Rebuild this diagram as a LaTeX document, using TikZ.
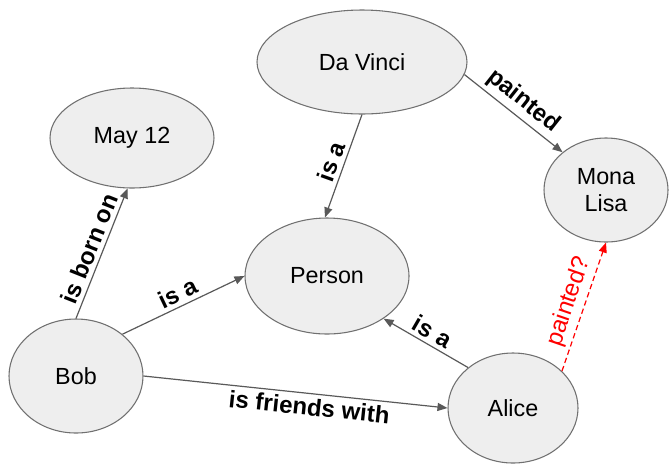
\documentclass[tikz,border=0pt]{standalone}
\usepackage{fontspec}
\setmainfont{Liberation Sans}
\usepackage{tikz}
\usetikzlibrary{shapes.geometric, arrows.meta, calc}
\definecolor{node-fill}{HTML}{EEEEEE}
\definecolor{node-line}{HTML}{707070}
\definecolor{edge-gray}{HTML}{595959}

\tikzset{
	entity/.style={ellipse, draw=node-line, fill=node-fill, line width=0.8pt, inner sep=0pt, font=\fontsize{17.5}{20}\selectfont},
	rel/.style={edge-gray, line width=0.9pt, -{Triangle[length=7.5pt, width=6pt]}},
	guess/.style={red, line width=0.9pt, dash pattern=on 4pt off 2.5pt, -{Triangle[length=7.5pt, width=6pt]}},
	lbl/.style={sloped, text=black, font=\fontsize{18}{21}\selectfont\bfseries, inner sep=3pt}
}

\begin{document}
\begin{tikzpicture}[x=0.75pt, y=-0.75pt]
	\useasboundingbox (0,0) rectangle (670,465);
	\node[entity, minimum width=157.5pt, minimum height=78pt] (davinci) at (362,62) {Da Vinci};
	\node[entity, minimum width=123pt, minimum height=75pt] (may) at (132,138) {May 12};
	\node[entity, minimum width=93pt, minimum height=78pt, align=center] (mona) at (606,190) {Mona\\Lisa};
	\node[entity, minimum width=123pt, minimum height=87pt] (person) at (327,276) {Person};
	\node[entity, minimum width=100.5pt, minimum height=85.5pt] (bob) at (76,376) {Bob};
	\node[entity, minimum width=97.5pt, minimum height=82.5pt] (alice) at (513,408) {Alice};
	\draw
	(bob.north) edge[rel] node[lbl, above] {is born on} (may.265)
	(bob.42) edge[rel] node[lbl, above] {is a} (person.west)
	(bob.east) edge[rel] node[lbl, below, pos=0.55] {is friends with} (alice.west)
	(davinci.south) edge[rel] node[lbl, above] {is a} (person.92)
	(davinci.-7) edge[rel] node[lbl, above] {painted} (mona.139)
	(alice.138) edge[rel] node[lbl, above] {is a} (person.-37)
	(alice.37) edge[guess] node[lbl, above, text=red, font=\fontsize{18}{21}\selectfont] {painted?} (mona.south);
\end{tikzpicture}
\end{document}
